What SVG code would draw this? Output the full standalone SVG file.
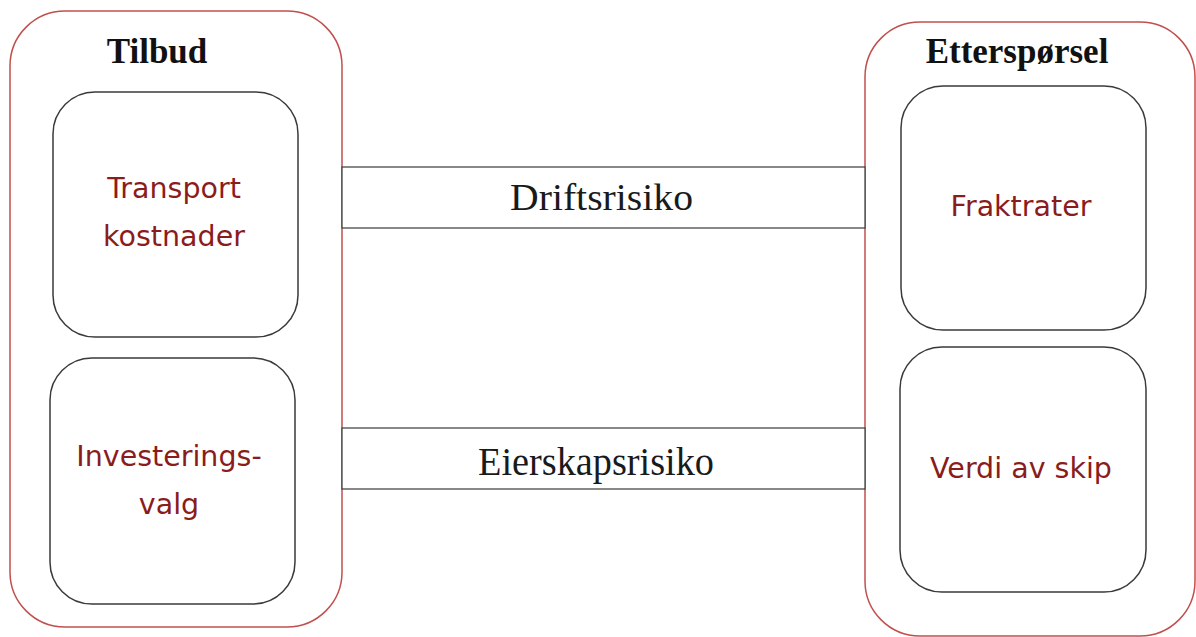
<svg xmlns="http://www.w3.org/2000/svg" width="1196" height="637" viewBox="0 0 1196 637">
  <style>
    .outer { fill: #ffffff; stroke: #c0504d; stroke-width: 1.5; }
    .inner { fill: #ffffff; stroke: #3a3a3a; stroke-width: 1.5; }
    .band { fill: #ffffff; stroke: #3a3a3a; stroke-width: 1.2; }
    .head { font-family: "Liberation Serif", "Times New Roman", serif; font-weight: bold; font-size: 35px; fill: #111111; text-anchor: middle; }
    .risk { font-family: "Liberation Serif", "Times New Roman", serif; font-size: 38px; fill: #1a1a1a; }
    .item { font-family: "DejaVu Sans", Verdana, sans-serif; font-size: 28.5px; fill: #8b1c1c; text-anchor: middle; }
  </style>

  <rect width="1196" height="637" fill="#ffffff"/>

  <!-- Supply side -->
  <g id="tilbud">
    <rect class="outer" x="10" y="11" width="332" height="616" rx="55" ry="55"/>
    <text class="head" x="157" y="63">Tilbud</text>
  </g>

  <!-- Demand side -->
  <g id="ettersporsel">
    <rect class="outer" x="865" y="22" width="330" height="614" rx="55" ry="55"/>
    <text class="head" x="1017" y="63">Etterspørsel</text>
  </g>

  <!-- Risk bands linking the two sides -->
  <g id="connectors">
    <g id="driftsrisiko">
      <rect class="band" x="342" y="167" width="523" height="61"/>
      <text class="risk" x="510" y="210" textLength="183" lengthAdjust="spacingAndGlyphs">Driftsrisiko</text>
    </g>
    <g id="eierskapsrisiko">
      <rect class="band" x="342" y="428" width="523" height="61"/>
      <text class="risk" x="478" y="475" textLength="236" lengthAdjust="spacingAndGlyphs" style="font-size:40px">Eierskapsrisiko</text>
    </g>
  </g>

  <g id="transportkostnader">
    <rect class="inner" x="53" y="92" width="245" height="245" rx="42" ry="42"/>
    <text class="item" x="174" y="198">Transport</text>
    <text class="item" x="174" y="246">kostnader</text>
  </g>

  <g id="investeringsvalg">
    <rect class="inner" x="50" y="358" width="245" height="246" rx="42" ry="42"/>
    <text class="item" x="169" y="466">Investerings-</text>
    <text class="item" x="169" y="514">valg</text>
  </g>

  <g id="fraktrater">
    <rect class="inner" x="901" y="86" width="245" height="244" rx="42" ry="42"/>
    <text class="item" x="1021" y="216">Fraktrater</text>
  </g>

  <g id="verdi-av-skip">
    <rect class="inner" x="900" y="347" width="246" height="245" rx="42" ry="42"/>
    <text class="item" x="1021" y="478">Verdi av skip</text>
  </g>
</svg>
